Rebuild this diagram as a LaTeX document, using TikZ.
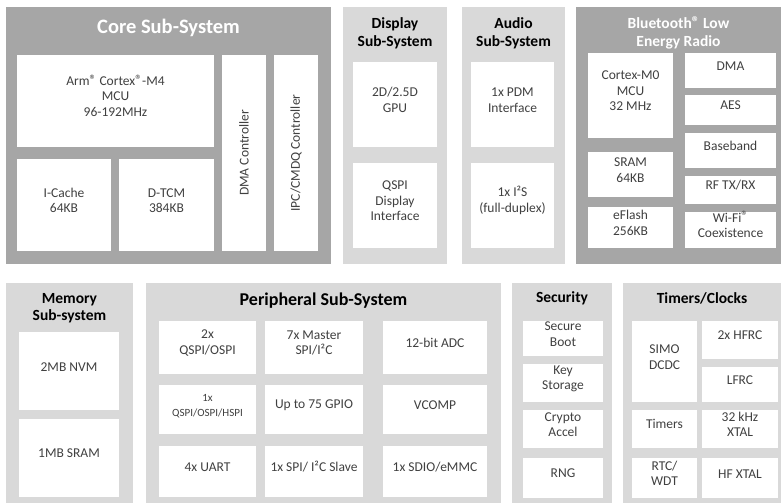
\documentclass[tikz,border=0pt]{standalone}
\usepackage{fontspec}
\setmainfont{Carlito}
\usetikzlibrary{fit}
\definecolor{dgray}{HTML}{A6A6A6}
\definecolor{lgray}{HTML}{D9D9D9}
\definecolor{txtc}{HTML}{404040}
\newcommand\regm{\raisebox{0.2ex}{\textregistered}}
\begin{document}
\begin{tikzpicture}[x=1pt,y=-1pt,
 dsys/.style={fill=dgray, inner sep=0pt},
 lsys/.style={fill=lgray, inner sep=0pt},
 blk/.style={fill=white, inner sep=0pt, align=center, text=txtc, font=\fontsize{13.5}{15.5}\selectfont},
 rtxt/.style={rotate=90, text=txtc, font=\fontsize{13.5}{15.5}\selectfont},
 ttl/.style={align=center, text=black, font=\fontsize{15.5}{17.5}\selectfont\bfseries},
 wttl/.style={ttl, text=white},
]
\useasboundingbox (0,0) rectangle (781,503);
% ---------------- Core Sub-System
\node[dsys, fit={(6,7) (331,264)}] (core) {};
\node[wttl, font=\fontsize{20.5}{22}\selectfont\bfseries] (coreT) at (168.5,28) {Core Sub-System};
\node[blk, fit={(17,55) (214,147)}] (mcu) {Arm\regm{} Cortex\regm-M4\\MCU\\96-192MHz};
\node[blk, fit={(17,159) (111,251)}] (icache) {I-Cache\\64KB};
\node[blk, fit={(119,159) (214,251)}] (dtcm) {D-TCM\\384KB};
\node[blk, fit={(222,55) (266,251)}] (dmac) {};
\node[rtxt] (dmacT) at (dmac.center) {DMA Controller};
\node[blk, fit={(274,55) (318,251)}] (ipc) {};
\node[rtxt] (ipcT) at (ipc.center) {IPC/CMDQ Controller};
% ---------------- Display
\node[lsys, fit={(343,7) (447,264)}] (disp) {};
\node[ttl] (dispT) at (395,33.5) {Display\\Sub-System};
\node[blk, fit={(353,62) (437,147)}] (gpu) {2D/2.5D\\GPU};
\node[blk, fit={(353,163) (437,248)}] (qspid) {QSPI\\Display\\Interface};
% ---------------- Audio
\node[lsys, fit={(462,7) (565,264)}] (aud) {};
\node[ttl] (audT) at (513.5,33.5) {Audio\\Sub-System};
\node[blk, fit={(471,62) (554,147)}] (pdm) {1x PDM\\Interface};
\node[blk, fit={(471,163) (554,248)}] (i2s) {1x I²S\\(full-duplex)};
% ---------------- BLE
\node[dsys, fit={(576,7) (781,264)}] (ble) {};
\node[wttl] (bleT) at (678.5,32.5) {Bluetooth\regm{} Low\\Energy Radio};
\node[blk, fit={(588,53) (673,138)}] (m0) {Cortex-M0\\MCU\\32 MHz};
\node[blk, fit={(588,152) (673,197)}] (bsram) {SRAM\\64KB};
\node[blk, fit={(588,207) (673,248)}] (eflash) {eFlash\\256KB};
\node[blk, fit={(685,53) (776,88)}] (bdma) {DMA};
\node[blk, fit={(685,95) (776,125)}] (aes) {AES};
\node[blk, fit={(685,133) (776,168)}] (bb) {Baseband};
\node[blk, fit={(685,176) (776,204)}] (rf) {RF TX/RX};
\node[blk, fit={(685,212) (776,248)}] (wifi) {Wi-Fi\regm\\Coexistence};
% ---------------- Memory
\node[lsys, fit={(6,283) (133,503)}] (mem) {};
\node[ttl] (memT) at (69.5,308) {Memory\\Sub-system};
\node[blk, fit={(19,332) (119,410)}] (nvm) {2MB NVM};
\node[blk, fit={(19,419) (119,497)}] (msram) {1MB SRAM};
% ---------------- Peripheral
\node[lsys, fit={(146,283) (501,503)}] (per) {};
\node[ttl, font=\fontsize{18}{20}\selectfont\bfseries] (perT) at (323.5,301) {Peripheral Sub-System};
\node[blk, fit={(159,321) (256,374)}] (p11) {2x\\QSPI/OSPI};
\node[blk, fit={(265,321) (363,374)}] (p12) {7x Master\\SPI/I²C};
\node[blk, fit={(383,321) (487,374)}] (p13) {12-bit ADC};
\node[blk, fit={(159,385) (256,434)}, font=\fontsize{11}{15}\selectfont] (p21) {1x\\QSPI/OSPI/HSPI};
\node[blk, fit={(265,385) (363,434)}] (p22) {Up to 75 GPIO};
\node[blk, fit={(383,385) (487,434)}] (p23) {VCOMP};
\node[blk, fit={(159,446) (256,497)}] (p31) {4x UART};
\node[blk, fit={(265,446) (363,497)}] (p32) {1x SPI/ I²C Slave};
\node[blk, fit={(383,446) (487,497)}] (p33) {1x SDIO/eMMC};
% ---------------- Security
\node[lsys, fit={(512,283) (612,503)}] (sec) {};
\node[ttl] (secT) at (562,298) {Security};
\node[blk, fit={(523,321) (603,356)}] (sboot) {Secure\\Boot};
\node[blk, fit={(523,364) (603,402)}] (kstor) {Key\\Storage};
\node[blk, fit={(523,410) (603,448)}] (crypto) {Crypto\\Accel};
\node[blk, fit={(523,458) (603,498)}] (rng) {RNG};
% ---------------- Timers/Clocks
\node[lsys, fit={(623,283) (781,503)}] (tim) {};
\node[ttl] (timT) at (702,298) {Timers/Clocks};
\node[blk, fit={(632,321) (697,402)}] (simo) {SIMO\\DCDC};
\node[blk, fit={(702,321) (778,359)}] (hfrc) {2x HFRC};
\node[blk, fit={(702,367) (778,402)}] (lfrc) {LFRC};
\node[blk, fit={(632,410) (697,448)}] (timers) {Timers};
\node[blk, fit={(702,410) (778,448)}] (xtal32) {32 kHz\\XTAL};
\node[blk, fit={(632,458) (697,498)}] (rtc) {RTC/\\WDT};
\node[blk, fit={(702,458) (778,498)}] (hfx) {HF XTAL};
\end{tikzpicture}
\end{document}
